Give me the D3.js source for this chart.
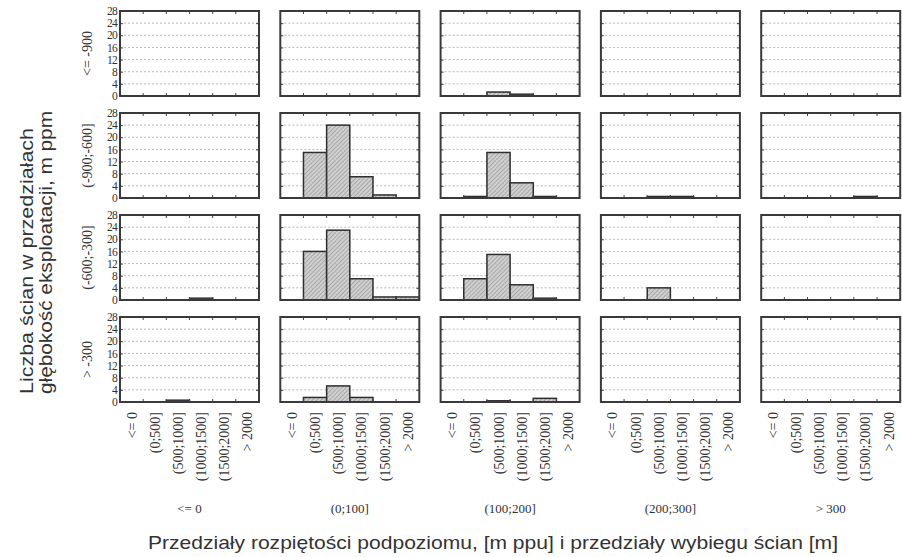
<!DOCTYPE html>
<html>
<head>
<meta charset="utf-8">
<script src="https://cdn.jsdelivr.net/npm/d3@7/dist/d3.min.js"></script>
<style>
  body { margin: 0; background: #fff; }
  svg text { fill: #333; }
</style>
</head>
<body>
<div id="chart"></div>
<script>
// row groups: depth of exploitation
const rowLabels = ["<= -900", "(-900;-600]", "(-600;-300]", "> -300"];
// column groups: sublevel span
const colLabels = ["<= 0", "(0;100]", "(100;200]", "(200;300]", "> 300"];
// bars inside each panel: face run length
const lengthBins = ["<= 0", "(0;500]", "(500;1000]", "(1000;1500]", "(1500;2000]", "> 2000"];
const yTicks = [0, 4, 8, 12, 16, 20, 24, 28];

// counts per row, one array of 6 per column
const row1Values = [
  [0, 0, 0, 0, 0, 0],
  [0, 0, 0, 0, 0, 0],
  [0, 0, 1.3, 0.6, 0, 0],
  [0, 0, 0, 0, 0, 0],
  [0, 0, 0, 0, 0, 0]
];
const row2Values = [
  [0, 0, 0, 0, 0, 0],
  [0, 15, 24, 7, 1, 0],
  [0, 0.5, 15, 5, 0.5, 0],
  [0, 0, 0.5, 0.5, 0, 0],
  [0, 0, 0, 0, 0.5, 0]
];
const row3Values = [
  [0, 0, 0, 0.6, 0, 0],
  [0, 16, 23, 7, 1, 1],
  [0, 7, 15, 5, 0.6, 0],
  [0, 0, 4, 0, 0, 0],
  [0, 0, 0, 0, 0, 0]
];
const row4Values = [
  [0, 0, 0.6, 0, 0, 0],
  [0, 1.5, 5.3, 1.5, 0, 0],
  [0, 0, 0.4, 0, 1.2, 0],
  [0, 0, 0, 0, 0, 0],
  [0, 0, 0, 0, 0, 0]
];
const allRows = [row1Values, row2Values, row3Values, row4Values];

const width = 902;
const height = 557;

// panel layout
const panelLeft = 120, panelTop = 11;
const panelW = 139, panelH = 85;
const stepX = 160.3, stepY = 102;

const svg = d3.select("#chart")
  .append("svg")
  .attr("width", width)
  .attr("height", height);

// hatch fill for bars
const defs = svg.append("defs");
const pat = defs.append("pattern")
  .attr("id", "hatch")
  .attr("patternUnits", "userSpaceOnUse")
  .attr("width", 3)
  .attr("height", 3)
  .attr("patternTransform", "rotate(45)");
pat.append("rect").attr("width", 3).attr("height", 3).attr("fill", "#d0d0d0");
pat.append("line")
  .attr("x1", 0).attr("y1", 0).attr("x2", 0).attr("y2", 3)
  .attr("stroke", "#8e8e8e").attr("stroke-width", 1.2);

const xScale = d3.scaleBand()
  .domain(lengthBins)
  .range([0, panelW])
  .padding(0);

const yScale = d3.scaleLinear()
  .domain([0, 28])
  .range([panelH, 0]);

const serif = "'Liberation Serif', 'DejaVu Serif', serif";
const sans = "'Liberation Sans', Arial, sans-serif";

allRows.forEach((rowVals, r) => {
  rowVals.forEach((vals, c) => {
    const g = svg.append("g")
      .attr("transform", `translate(${panelLeft + c * stepX}, ${panelTop + r * stepY})`);

    // dotted grid lines
    g.selectAll(".grid")
      .data(yTicks.slice(1, -1))
      .enter()
      .append("line")
      .attr("x1", 0).attr("x2", panelW)
      .attr("y1", d => yScale(d)).attr("y2", d => yScale(d))
      .attr("stroke", "#b8b8b8")
      .attr("stroke-width", 1)
      .attr("stroke-dasharray", "2,2");

    // small inner ticks on left and right
    g.append("g")
      .call(d3.axisRight(yScale).tickValues(yTicks).tickSize(3).tickFormat(""))
      .call(a => a.select(".domain").remove())
      .selectAll("line").attr("stroke", "#444");
    g.append("g")
      .attr("transform", `translate(${panelW},0)`)
      .call(d3.axisLeft(yScale).tickValues(yTicks).tickSize(3).tickFormat(""))
      .call(a => a.select(".domain").remove())
      .selectAll("line").attr("stroke", "#444");

    // bars
    g.selectAll(".bar")
      .data(lengthBins.map((b, i) => ({ bin: b, v: vals[i] })).filter(d => d.v > 0))
      .enter()
      .append("rect")
      .attr("class", "bar")
      .attr("x", d => xScale(d.bin))
      .attr("y", d => yScale(d.v))
      .attr("width", xScale.bandwidth())
      .attr("height", d => panelH - yScale(d.v))
      .attr("fill", "url(#hatch)")
      .attr("stroke", "#2e2e2e")
      .attr("stroke-width", 1.5);

    // ticks at band boundaries, top and bottom
    const bounds = lengthBins.slice(1).map(b => xScale(b));
    g.selectAll(".tt")
      .data(bounds)
      .enter()
      .append("line")
      .attr("x1", d => d).attr("x2", d => d)
      .attr("y1", 0).attr("y2", 3)
      .attr("stroke", "#444");
    g.selectAll(".tb")
      .data(bounds)
      .enter()
      .append("line")
      .attr("x1", d => d).attr("x2", d => d)
      .attr("y1", panelH - 3).attr("y2", panelH)
      .attr("stroke", "#444");

    // frame
    g.append("rect")
      .attr("width", panelW)
      .attr("height", panelH)
      .attr("fill", "none")
      .attr("stroke", "#3a3a3a")
      .attr("stroke-width", 2);

    // y tick labels on the first column only
    if (c === 0) {
      g.append("g")
        .call(d3.axisLeft(yScale).tickValues(yTicks).tickSize(0).tickPadding(3))
        .call(a => a.select(".domain").remove())
        .selectAll("text")
        .attr("font-family", serif)
        .attr("font-size", 11.5)
        .attr("letter-spacing", -0.8)
        .attr("fill", "#333");
    }

    // rotated bin labels on the bottom row
    if (r === allRows.length - 1) {
      g.selectAll(".xl")
        .data(lengthBins)
        .enter()
        .append("text")
        .attr("transform", d => `translate(${xScale(d) + xScale.bandwidth() / 2 + 5}, ${panelH + 10}) rotate(-90)`)
        .attr("text-anchor", "end")
        .attr("font-family", serif)
        .attr("font-size", 14)
        .text(d => d);

      g.append("text")
        .attr("x", panelW / 2)
        .attr("y", panelH + 111)
        .attr("text-anchor", "middle")
        .attr("font-family", serif)
        .attr("font-size", 13)
        .text(colLabels[c]);
    }
  });

  // row label
  svg.append("text")
    .attr("transform", `translate(92, ${panelTop + r * stepY + panelH / 2}) rotate(-90)`)
    .attr("text-anchor", "middle")
    .attr("font-family", serif)
    .attr("font-size", 14)
    .text(rowLabels[r]);
});

// axis titles
svg.append("text")
  .attr("transform", "translate(33, 394) rotate(-90)")
  .attr("text-anchor", "start")
  .attr("font-family", sans)
  .attr("font-size", 18)
  .attr("textLength", 266)
  .attr("lengthAdjust", "spacingAndGlyphs")
  .text("Liczba ścian w przedziałach");
svg.append("text")
  .attr("transform", "translate(52, 394) rotate(-90)")
  .attr("text-anchor", "start")
  .attr("font-family", sans)
  .attr("font-size", 18)
  .attr("textLength", 283)
  .attr("lengthAdjust", "spacingAndGlyphs")
  .text("głębokość eksploatacji, m ppm");

svg.append("text")
  .attr("x", 148)
  .attr("y", 549)
  .attr("text-anchor", "start")
  .attr("font-family", sans)
  .attr("font-size", 18.5)
  .attr("textLength", 690)
  .attr("lengthAdjust", "spacingAndGlyphs")
  .text("Przedziały rozpiętości podpoziomu, [m ppu] i przedziały wybiegu ścian [m]");
</script>
</body>
</html>
